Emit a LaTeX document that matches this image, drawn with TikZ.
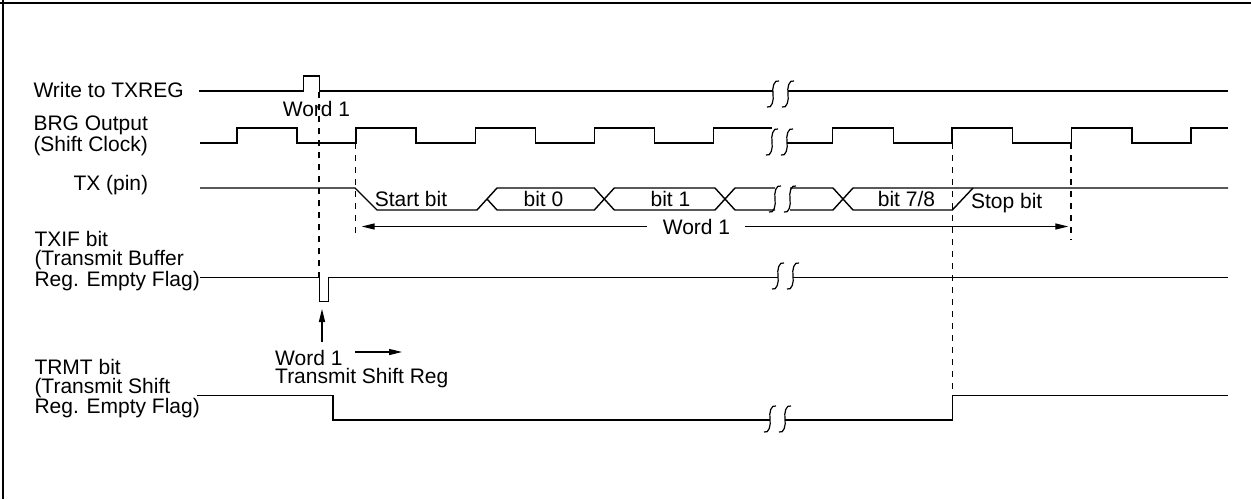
\documentclass[tikz,border=0pt]{standalone}
\usepackage{fontspec}
\setmainfont{Liberation Sans}
\usetikzlibrary{arrows.meta,positioning}

\begin{document}
\begin{tikzpicture}[
x=1pt, y=-1pt,
font=\fontsize{21}{19}\selectfont,
signal/.style={line width=1.4pt, line join=miter},
guide/.style={line width=1.3pt, dash pattern=on 6pt off 6pt},
lbl/.style={inner sep=0pt},
multi/.style={inner sep=0pt, align=left, anchor=north west},
arrow/.style={-{Triangle[length=13pt,width=6pt]}, line width=1.3pt}
]
\useasboundingbox (0,0) rectangle (1251,499);
\draw[line width=2.5pt] (0,3) -- (1251,3);
\draw[line width=1.5pt] (3,0) -- (3,499);

\node[lbl, anchor=base west] (wrlbl) at (33.3,97) {Write to TXREG};
\node[multi] (brglbl) at (33.3,115.7) {BRG Output\\(Shift Clock)};
\node[lbl, anchor=base west] (txlbl) at (73.3,190) {TX (pin)};
\node[multi] (txiflbl) at (34.3,231.4) {TXIF bit\\(Transmit Buffer\\Reg. Empty Flag)};
\node[multi] (trmtlbl) at (34.3,358.7) {TRMT bit\\(Transmit Shift\\Reg. Empty Flag)};

\node[lbl, anchor=base] (wordtop) at (316.5,116.5) {Word 1};
\node[lbl, anchor=base] (startlbl) at (411,206) {Start bit};
\node[lbl, anchor=base] (bitzero) at (543.5,206) {bit 0};
\node[lbl, anchor=base] (bitone) at (670.5,206) {bit 1};
\node[lbl, anchor=base] (bitseven) at (906.5,206) {bit 7/8};
\node[lbl, anchor=base] (stoplbl) at (1006.7,208.3) {Stop bit};
\node[lbl, anchor=base] (wordmid) at (696.5,234) {Word 1};
\node[lbl, anchor=base west] (shword) at (275,365) {Word 1};
\node[lbl, below=3pt of shword.south west, anchor=north west] (shreg) {Transmit Shift Reg};

% write pulse
\draw[signal] (199,91) -- (303.7,91) -- (303.7,76) -- (319.7,76) -- (319.7,91) -- (773,91);
\draw[signal] (788,91) -- (1228,91);

% shift clock
\draw[signal] (200,143) foreach \k in {0,...,3} {
  -- ({237+119.1*\k},143) -- ({237+119.1*\k},128) -- ({297+119.1*\k},128) -- ({297+119.1*\k},143)}
  -- (713.4,143) -- (713.4,128) -- (772,128);
\draw[signal] (787,143) foreach \k in {0,...,2} {
  -- ({832.5+119.4*\k},143) -- ({832.5+119.4*\k},128) -- ({893.2+119.4*\k},128) -- ({893.2+119.4*\k},143)}
  -- (1190.8,143) -- (1190.8,128) -- (1228,128);

% tx pin
\draw[signal] (200,188) -- (355,188) -- (377,210) -- (477,210) -- (497,188) -- (594.3,188)
  -- (614.3,210) -- (715,210) -- (735,188) -- (775,188);
\draw[signal] (487,199) -- (497,210) -- (594.3,210) -- (614.3,188) -- (715,188) -- (735,210) -- (775,210);
\draw[signal] (790,188) -- (833,188) -- (853,210) -- (952.3,210) -- (973,188);
\draw[signal] (790,210) -- (833,210) -- (853,188) -- (1228,188);

% txif and trmt
\draw[signal] (txiflbl.south east |- 0,277.3) -- (319.3,277.3) -- (319.3,301.3) -- (328.3,301.3)
  -- (328.3,277.3) -- (778,277.3);
\draw[signal] (793,277.3) -- (1228,277.3);
\draw[signal] (197,395.7) -- (333,395.7) -- (333,420) -- (770,420);
\draw[signal] (785,420) -- (952.3,420) -- (952.3,395.7) -- (1228,395.7);

% breaks
\foreach \bx/\by in {773/94, 772/142, 775/199, 778/276, 770/419}
  \foreach \dx in {0,15}
    \draw[line width=1.2pt] ({\bx+\dx-6},\by+13) .. controls ({\bx+\dx-1},\by+15) and ({\bx+\dx+1},\by+6) .. ({\bx+\dx},\by)
      .. controls ({\bx+\dx-1},\by-6) and ({\bx+\dx+1},\by-15) .. ({\bx+\dx+6},\by-13);

\draw[guide] (319,92) -- (319,277);
\draw[guide] (355.7,143) -- (355.7,234);
\draw[guide] (952.3,143) -- (952.3,395.7);
\draw[guide] (1071,143) -- (1071,240);

\coordinate (wl) at (361.7,0);
\coordinate (wr) at (1068.3,0);
\draw[arrow] ([xshift=-16pt]wordmid.west) -- (wordmid.west -| wl);
\draw[arrow] ([xshift=15pt]wordmid.east) -- (wordmid.east -| wr);

\coordinate (dipA) at (322,342);
\coordinate (dipB) at (322,309);
\draw[arrow] (dipA) -- (dipB);
\coordinate (sha) at (355,352);
\coordinate (shb) at (402,352);
\draw[arrow] (sha) -- (shb);
\end{tikzpicture}
\end{document}
